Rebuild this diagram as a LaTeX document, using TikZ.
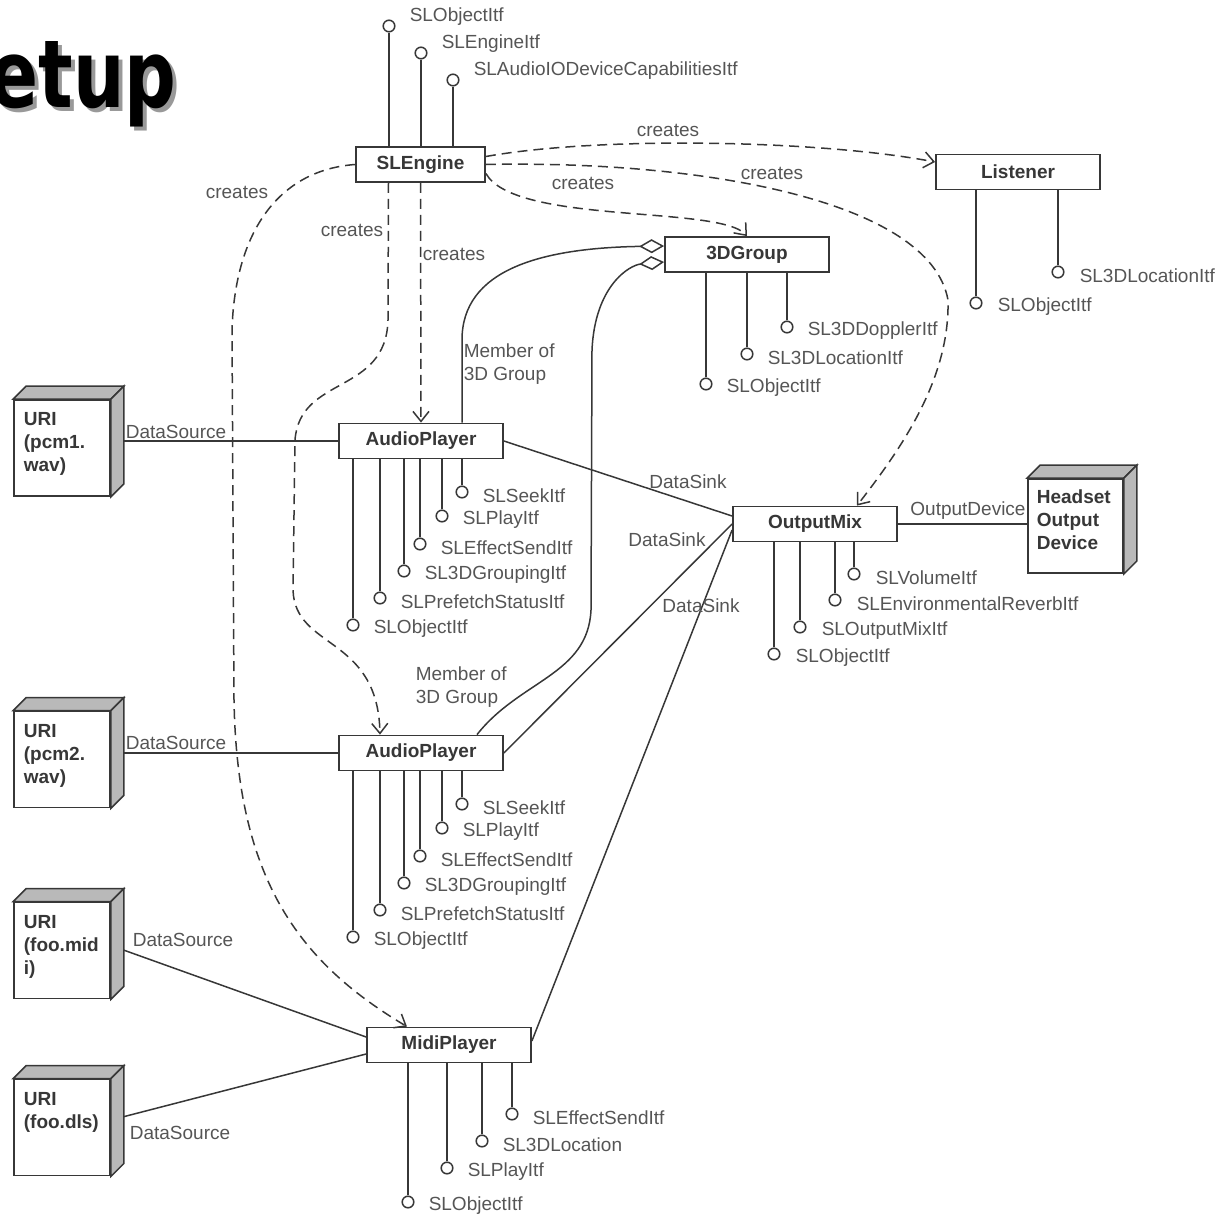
\documentclass[tikz,border=0pt]{standalone}
\usepackage{fontspec}
\setmainfont{Liberation Sans}
\newfontfamily\titlefont{DejaVu Sans}
\usetikzlibrary{arrows.meta,calc}

\definecolor{ln}{RGB}{55,55,55}
\definecolor{txt}{RGB}{85,85,85}
\definecolor{side}{RGB}{185,185,185}

\begin{document}
\begin{tikzpicture}[x=0.5pt,y=-0.5pt,color=ln,line width=0.75pt,font=\fontsize{9.5}{11.5}\selectfont]
\tikzstyle{b}=[draw,line width=0.9pt,fill=white,minimum width=82pt,minimum height=17.5pt,inner sep=0pt,font=\fontsize{9.5}{11.5}\selectfont\bfseries]
\tikzstyle{dev}=[draw,line width=0.9pt,fill=white,minimum width=48pt,minimum height=48pt,inner sep=0pt]
\tikzstyle{devt}=[anchor=north west,align=left,inner sep=0pt,font=\fontsize{9.5}{11.5}\selectfont\bfseries]
\tikzstyle{lol}=[circle,draw,fill=white,minimum size=5.8pt,inner sep=0pt]
\tikzstyle{itf}=[text=txt,inner sep=0pt,anchor=west]
\tikzstyle{lbl}=[text=txt,inner sep=0pt]
\tikzstyle{dep}=[dash pattern=on 5pt off 3pt,-{Straight Barb[length=5pt,width=8pt]}]
\tikzstyle{memb}=[-{Diamond[open,fill=white,length=12.5pt,width=7pt]}]
\tikzstyle{ttl}=[inner sep=0pt,anchor=base west,text=black,font=\titlefont\bfseries\fontsize{47}{50}\selectfont]
\newcommand{\ttltext}{\scalebox{0.77}[1]{etup}}
\useasboundingbox (0,0) rectangle (1217,1216);

% title with its shadow, cut at the left edge
\begin{scope}
\clip (0,0) rectangle (1217,1216);
\node[ttl] (ttl) at (-11,107) {\makebox[0pt][l]{\hspace{2pt}\raisebox{-2pt}{\color{black!40}\ttltext}}\ttltext};
\end{scope}

% objects
\node[b,minimum width=64.5pt] (eng) at (420.5,164.5) {SLEngine};
\node[b] (lis) at (1018,172) {Listener};
\node[b] (grp) at (747,254.5) {3DGroup};
\node[b] (ap1) at (421,441) {AudioPlayer};
\node[b] (ap2) at (421,753) {AudioPlayer};
\node[b] (om) at (815,524) {OutputMix};
\node[b] (mid) at (449,1045) {MidiPlayer};

% devices (front faces)
\node[dev] (uri1) at (62,448) {};
\node[dev] (uri2) at (62,759.5) {};
\node[dev] (uri3) at (62,950.5) {};
\node[dev] (uri4) at (62,1127.5) {};
\node[dev,minimum width=47.5pt,minimum height=47pt] (hs) at (1075.5,526) {};

% interfaces
\foreach \n/\x/\y/\t in {1/389/26/SLObjectItf,2/421/53/SLEngineItf,3/453/80/SLAudioIODeviceCapabilitiesItf}{
  \node[lol] (eng-\n) at (\x,\y) {};
  \draw (eng-\n) -- (eng-\n |- eng.north);
  \node[itf] (eng-\n-t) at ([shift={(20,-9)}]eng-\n.center) {\t};
}
\foreach \n/\x/\y/\t in {1/976/303/SLObjectItf,2/1058/272/SL3DLocationItf}{
  \node[lol] (lis-\n) at (\x,\y) {};
  \draw (lis-\n) -- (lis-\n |- lis.south);
  \node[itf] (lis-\n-t) at ([shift={(21,4)}]lis-\n.center) {\t};
}
\foreach \n/\x/\y/\t in {1/706/384/SLObjectItf,2/747/354/SL3DLocationItf,3/787/327/SL3DDopplerItf}{
  \node[lol] (grp-\n) at (\x,\y) {};
  \draw (grp-\n) -- (grp-\n |- grp.south);
  \node[itf] (grp-\n-t) at ([shift={(20,4)}]grp-\n.center) {\t};
}
\foreach \b/\o in {ap1/0,ap2/312}{
  \foreach \n/\x/\y/\t in {1/353/625/SLObjectItf,2/380/598/SLPrefetchStatusItf,3/404/571/SL3DGroupingItf,4/420/544/SLEffectSendItf,5/442/516/SLPlayItf,6/462/492/SLSeekItf}{
    \node[lol] (\b-\n) at (\x,\y+\o) {};
    \draw (\b-\n) -- (\b-\n |- \b.south);
    \node[itf] (\b-\n-t) at ([shift={(20,4)}]\b-\n.center) {\t};
  }
}
\foreach \n/\x/\y/\t in {1/774/654/SLObjectItf,2/800/627/SLOutputMixItf,3/835/600/SLEnvironmentalReverbItf,4/854/574/SLVolumeItf}{
  \node[lol] (om-\n) at (\x,\y) {};
  \draw (om-\n) -- (om-\n |- om.south);
  \node[itf] (om-\n-t) at ([shift={(21,4)}]om-\n.center) {\t};
}
\foreach \n/\x/\y/\t in {1/408/1202/SLObjectItf,2/447/1168/SLPlayItf,3/482/1141/SL3DLocation,4/512/1114/SLEffectSendItf}{
  \node[lol] (mid-\n) at (\x,\y) {};
  \draw (mid-\n) -- (mid-\n |- mid.south);
  \node[itf] (mid-\n-t) at ([shift={(20,4)}]mid-\n.center) {\t};
}

% creates
\draw[dep] ([yshift=4pt]eng.east) .. controls (600,136) and (820,140) .. ([yshift=5pt]lis.west);
\draw[dep] (eng.east) .. controls (700,160) and (930,200) .. (948,300) .. controls (950,380) and (900,450) .. ([xshift=21pt]om.north);
\draw[dep] ([yshift=-4.5pt]eng.east) .. controls (515,225) and (720,205) .. (grp.north);
\draw[dep] (eng.south) -- (ap1.north);
\draw[dep] ([xshift=-16pt]eng.south) -- (388,320) .. controls (386,395) and (300,375) .. (295,440) -- (293,590) .. controls (295,650) and (378,635) .. ([xshift=-20.5pt]ap2.north);
\draw[dep] (eng.west) .. controls (280,170) and (235,230) .. (232,330) -- (234,700) .. controls (237,875) and (295,960) .. ([xshift=-21pt]mid.north);
\node[lbl] (cr1) at (668,130) {creates};
\node[lbl] (cr2) at (583,183) {creates};
\node[lbl] (cr3) at (772,173) {creates};
\node[lbl] (cr4) at (454,254) {creates};
\node[lbl] (cr5) at (352,230) {creates};
\node[lbl] (cr6) at (237,192) {creates};

% member of 3D group
\draw[memb] ([xshift=20.5pt]ap1.north) -- (462,340) .. controls (462,270) and (540,248) .. ([yshift=4.25pt]grp.west);
\draw[memb] ([xshift=28pt]ap2.north) .. controls (520,680) and (588,675) .. (591,610) -- (592,350) .. controls (595,285) and (630,265) .. ([yshift=-3.75pt]grp.west);
\node[lbl,align=left,anchor=north west] (mb1) at (463,343) {Member of\\3D Group};
\node[lbl,align=left,anchor=north west] (mb2) at (415,666) {Member of\\3D Group};

% data sinks
\draw (ap1.east) -- ([yshift=4pt]om.west);
\draw (ap2.east) -- (om.west);
\draw ([yshift=2pt]mid.east) -- ([yshift=-3pt]om.west);
\draw (om.east) -- (om.east -| hs.west);
\node[lbl] (dk1) at (688,482) {DataSink};
\node[lbl] (dk2) at (667,540) {DataSink};
\node[lbl] (dk3) at (701,606) {DataSink};
\node[lbl] (odev) at (968,511) {OutputDevice};

% data sources
\draw (ap1.west) -- (ap1.west -| uri1.east);
\draw (ap2.west) -- (ap2.west -| uri2.east);
\draw ([yshift=2.5pt]uri3.east) -- ([yshift=4pt]mid.west);
\draw ([yshift=3.75pt]uri4.east) -- ([yshift=-4.5pt]mid.west);
\node[lbl] (ds1) at (176,432) {DataSource};
\node[lbl] (ds2) at (176,743) {DataSource};
\node[lbl] (ds3) at (183,940) {DataSource};
\node[lbl] (ds4) at (180,1133) {DataSource};

% device top and side faces
\foreach \d in {uri1,uri2,uri3,uri4,hs}{
  \draw[fill=side] (\d.north west) -- ([shift={(13,-13)}]\d.north west) -- ([shift={(13,-13)}]\d.north east) -- (\d.north east) -- cycle;
  \draw[fill=side] (\d.north east) -- ([shift={(13,-13)}]\d.north east) -- ([shift={(13,-13)}]\d.south east) -- (\d.south east) -- cycle;
}
\node[devt] (uri1t) at ([shift={(10,13)}]uri1.north west) {URI\\(pcm1.\\wav)};
\node[devt] (uri2t) at ([shift={(10,13)}]uri2.north west) {URI\\(pcm2.\\wav)};
\node[devt] (uri3t) at ([shift={(10,13)}]uri3.north west) {URI\\(foo.mid\\i)};
\node[devt] (uri4t) at ([shift={(10,13)}]uri4.north west) {URI\\(foo.dls)};
\node[devt] (hst) at ([shift={(9,11)}]hs.north west) {Headset\\Output\\Device};
\end{tikzpicture}
\end{document}
